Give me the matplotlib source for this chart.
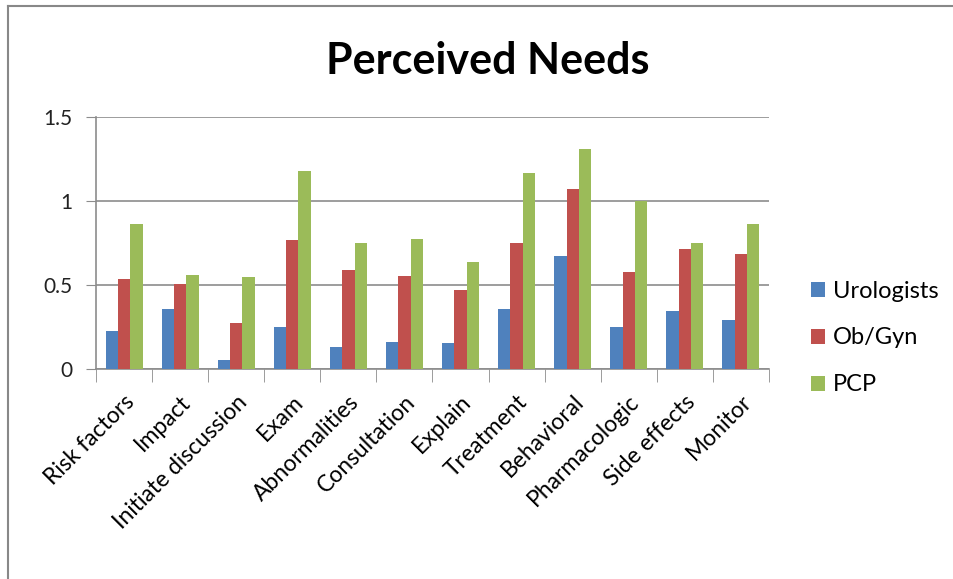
import matplotlib.pyplot as plt
import numpy as np
from matplotlib.lines import Line2D

plt.rcParams['font.family'] = ['Lato', 'DejaVu Sans']

# datos
categorias = ['Risk factors', 'Impact', 'Initiate discussion', 'Exam', 'Abnormalities',
              'Consultation', 'Explain', 'Treatment', 'Behavioral', 'Pharmacologic',
              'Side effects', 'Monitor']
urologists = [0.225, 0.36, 0.056, 0.247, 0.131, 0.163, 0.153, 0.36, 0.674, 0.252, 0.344, 0.292]
obgyn = [0.535, 0.505, 0.276, 0.765, 0.588, 0.551, 0.473, 0.75, 1.072, 0.58, 0.712, 0.682]
pcp = [0.865, 0.56, 0.545, 1.177, 0.75, 0.773, 0.634, 1.165, 1.308, 0.998, 0.75, 0.865]
series = ['Urologists', 'Ob/Gyn', 'PCP']
colores = ['#4F81BD', '#C0504D', '#9BBB59']

fig = plt.figure(figsize=(9.54, 5.79), dpi=100)
ax = fig.add_axes([0.1006, 0.3627, 0.7055, 0.4353])

x = np.arange(len(categorias))
w = 0.22
for i, (vals, nombre, c) in enumerate(zip([urologists, obgyn, pcp], series, colores)):
    ax.bar(x + (i - 1) * w, vals, w, color=c, label=nombre, zorder=3)

ax.set_xlim(-0.5, len(categorias) - 0.5)
ax.set_ylim(0, 1.5)
ax.set_yticks([0, 0.5, 1, 1.5])
ax.set_yticklabels(['0', '0.5', '1', '1.5'], fontsize=15, color='#222222')
ax.yaxis.grid(True, color='#8c8c8c', linewidth=1.2, zorder=0)
ax.tick_params(axis='y', length=7, color='#8c8c8c', pad=10)

ax.set_xticks(x)
ax.set_xticklabels(categorias, rotation=45, ha='right', rotation_mode='anchor', fontsize=16.5)
ax.tick_params(axis='x', which='major', length=0, pad=16)
ax.set_xticks(np.arange(len(categorias) + 1) - 0.5, minor=True)
ax.tick_params(axis='x', which='minor', length=9, color='#8c8c8c')

for lado in ['top', 'right']:
    ax.spines[lado].set_visible(False)
for lado in ['left', 'bottom']:
    ax.spines[lado].set_color('#8c8c8c')
    ax.spines[lado].set_linewidth(1.2)

fig.text(0.511, 0.895, 'Perceived Needs', ha='center', va='center', fontsize=31, fontweight='bold')

leg = ax.legend(loc='center left', bbox_to_anchor=(1.062, 0.123), frameon=False, fontsize=17,
                handlelength=0.6, handleheight=0.6, handletextpad=0.35, labelspacing=1.1,
                borderaxespad=0, borderpad=0)

# marco exterior (solo izquierda y arriba visibles)
fig.add_artist(Line2D([8 / 954, 8 / 954], [0, 1 - 6 / 579], transform=fig.transFigure, color='#888888', lw=1.5))
fig.add_artist(Line2D([8 / 954, 1], [1 - 6 / 579, 1 - 6 / 579], transform=fig.transFigure, color='#888888', lw=1.5))

fig.savefig('out.png', dpi=100)
